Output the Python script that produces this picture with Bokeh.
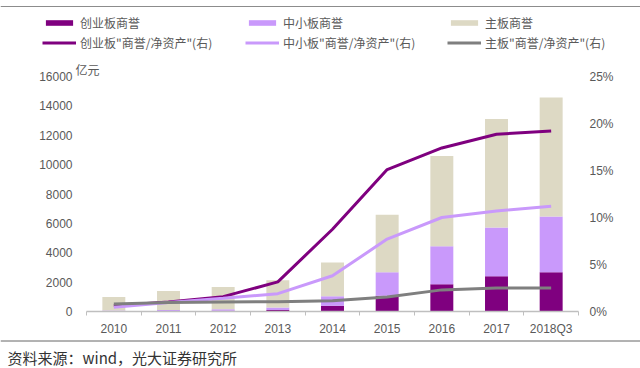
from bokeh.plotting import figure
from bokeh.models import (Range1d, LinearAxis, FixedTicker, NumeralTickFormatter,
                          Legend, LegendItem, Title, Label, Span, ColumnDataSource)
from bokeh.embed import file_html
from bokeh.resources import INLINE

# ---------------- data ----------------
years = ["2010", "2011", "2012", "2013", "2014", "2015", "2016", "2017", "2018Q3"]
chinext_gw = [10, 20, 50, 110, 400, 1080, 1850, 2400, 2680]       # 亿元
sme_gw = [50, 80, 110, 160, 630, 1600, 2590, 3320, 3780]
main_gw = [930, 1300, 1510, 1850, 2300, 3900, 6150, 7390, 8115]
chinext_ratio = [0.62, 1.0, 1.58, 3.15, 8.75, 15.1, 17.4, 18.85, 19.2]  # %
sme_ratio = [0.45, 0.95, 1.4, 1.9, 3.8, 7.7, 10.0, 10.7, 11.2]
main_ratio = [0.8, 0.95, 1.0, 1.05, 1.15, 1.55, 2.3, 2.5, 2.5]
left_ticks = [0, 2000, 4000, 6000, 8000, 10000, 12000, 14000, 16000]
right_ticks = [0, 0.05, 0.10, 0.15, 0.20, 0.25]

names_bar = ["创业板商誉", "中小板商誉", "主板商誉"]
names_line = ['创业板"商誉/净资产"(右)', '中小板"商誉/净资产"(右)', '主板"商誉/净资产"(右)']
unit_text = "亿元"
source_text = "资料来源：wind，光大证券研究所"

C_DARK = "#7f007f"
C_LIGHT = "#c999fb"
C_BEIGE = "#ddd9c4"
C_GRAY = "#7f7f7f"
bar_colors = [C_DARK, C_LIGHT, C_BEIGE]
line_colors = [C_DARK, C_LIGHT, C_GRAY]
TXT = "#595959"
W = 640
H_LEG, H_MAIN, H_SRC = 56, 282, 30

xs = list(range(len(years)))
src = ColumnDataSource(dict(
    x=xs, chinext=chinext_gw, sme=sme_gw, main=main_gw,
    r1=[v / 100 for v in chinext_ratio],
    r2=[v / 100 for v in sme_ratio],
    r3=[v / 100 for v in main_ratio],
))
bar_fields = ["chinext", "sme", "main"]
line_fields = ["r1", "r2", "r3"]


def strip(height):
    f = figure(width=W, height=height, output_backend="svg", toolbar_location=None,
               x_range=Range1d(0, W), y_range=Range1d(height, 0),
               x_axis_type=None, y_axis_type=None,
               min_border=0, min_border_left=0, min_border_right=0,
               min_border_top=0, min_border_bottom=0)
    f.outline_line_color = None
    f.xgrid.visible = False
    f.ygrid.visible = False
    return f


# ---------------- legend strip ----------------
pl = strip(H_LEG)
pl.add_layout(Span(location=6, dimension="width", line_color="#8c8c8c", line_width=1))
col_x = [42, 245, 447]
for i in range(3):
    # hidden copies of the series, only used as legend glyph sources
    rb = pl.vbar(x="x", top=bar_fields[i], source=src, width=0.42,
                 color=bar_colors[i], line_color=None, visible=False)
    rl = pl.line(x="x", y=line_fields[i], source=src,
                 line_color=line_colors[i], line_width=3, visible=False)
    lg = Legend(items=[LegendItem(label=names_bar[i], renderers=[rb]),
                       LegendItem(label=names_line[i], renderers=[rl])],
                location=(col_x[i], 5), orientation="vertical",
                glyph_width=34, glyph_height=7, label_standoff=4,
                label_height=14, spacing=3, padding=0, margin=0,
                border_line_color=None, background_fill_alpha=0,
                inactive_fill_alpha=0,
                label_text_font="Noto Sans CJK SC", label_text_font_size="12px",
                label_text_color=TXT)
    pl.add_layout(lg, "center")

# ---------------- main chart ----------------
p = figure(width=W, height=H_MAIN, output_backend="svg", toolbar_location=None,
           x_range=Range1d(-0.5, len(years) - 0.5), y_range=Range1d(0, 16000),
           min_border_left=86, min_border_right=62, min_border_top=20, min_border_bottom=25)
p.outline_line_color = None
p.xgrid.visible = False
p.ygrid.visible = False
p.extra_y_ranges = {"pct": Range1d(0, 0.25)}

bars = p.vbar_stack(bar_fields, x="x", width=0.42, source=src,
                    color=bar_colors, line_color=None)
for f, c in zip(line_fields, line_colors):
    p.line("x", f, source=src, y_range_name="pct", line_color=c, line_width=3)

xa = p.xaxis[0]
xa.ticker = FixedTicker(ticks=xs, minor_ticks=[i - 0.5 for i in range(len(years) + 1)])
xa.major_label_overrides = {i: y for i, y in enumerate(years)}
xa.axis_line_color = "#bfbfbf"
xa.axis_line_width = 1.5
xa.major_tick_line_color = None
xa.major_tick_out = 0
xa.major_tick_in = 0
xa.minor_tick_line_color = "#bfbfbf"
xa.minor_tick_out = 4
xa.minor_tick_in = 0
xa.major_label_standoff = 6
xa.major_label_text_font = "Liberation Sans"
xa.major_label_text_font_size = "12px"
xa.major_label_text_color = TXT

p.yaxis[0].ticker = FixedTicker(ticks=left_ticks)

ra = LinearAxis(y_range_name="pct", ticker=FixedTicker(ticks=right_ticks),
                formatter=NumeralTickFormatter(format="0%"))
p.add_layout(ra, "right")

for ax, so in ((p.yaxis[0], 14), (ra, 11)):
    ax.axis_line_color = None
    ax.major_tick_line_color = None
    ax.minor_tick_line_color = None
    ax.major_tick_out = 0
    ax.major_tick_in = 0
    ax.major_label_standoff = so
    ax.major_label_text_font = "Liberation Sans"
    ax.major_label_text_font_size = "12px"
    ax.major_label_text_color = TXT

p.add_layout(Title(text=unit_text, align="left", offset=-11, standoff=-3,
                   text_font="Noto Sans CJK SC", text_font_size="12px",
                   text_font_style="normal", text_color=TXT), "above")

# ---------------- source strip ----------------
ps = strip(H_SRC)
ps.add_layout(Span(location=2.5, dimension="width", line_color="#666666", line_width=1))
ps.add_layout(Label(x=7, y=19, text=source_text, text_font="Noto Sans CJK SC",
                    text_font_size="15px", text_color="#333333", text_baseline="middle"))

open("out.html", "w").write(file_html([pl, p, ps], INLINE))
